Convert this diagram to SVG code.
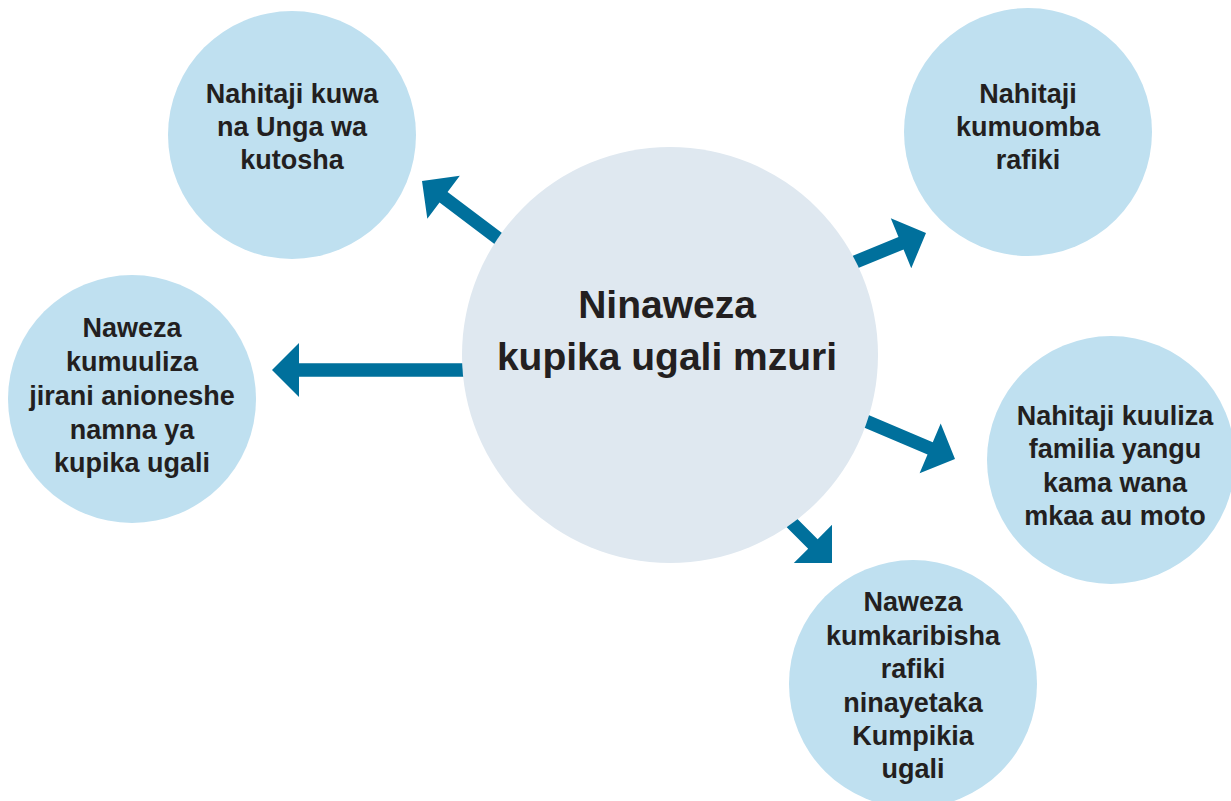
<svg xmlns="http://www.w3.org/2000/svg" width="1231" height="801" viewBox="0 0 1231 801">
<defs>
<style>
.outer{fill:#bfe0f0}
.center{fill:#dfe8f0}
.arrow{fill:#00709c}
text{font-family:"Liberation Sans",Arial,sans-serif;font-weight:bold;fill:#231f20;text-anchor:middle}
.t{font-size:27px}
.c{font-size:39px}
</style>
<polygon id="arr" points="-250,-6.7 -27,-6.7 -27,-27 0,0 -27,27 -27,6.7 -250,6.7"/>
</defs>
<rect width="1231" height="801" fill="#ffffff"/>
<g id="connectors" class="arrow">
<use href="#arr" transform="translate(422,181) rotate(-143)"/>
<use href="#arr" transform="translate(272,370) rotate(180)"/>
<use href="#arr" transform="translate(926,233) rotate(-22.3)"/>
<use href="#arr" transform="translate(955,459) rotate(23)"/>
<use href="#arr" transform="translate(832,563) rotate(45)"/>
</g>
<g id="node-center">
<circle class="center" cx="670" cy="355" r="208"/>
<text class="c" x="667" y="318">Ninaweza</text>
<text class="c" x="667" y="370">kupika ugali mzuri</text>
</g>
<g id="node-topleft">
<circle class="outer" cx="292" cy="135" r="124"/>
<text class="t" x="292" y="103">Nahitaji kuwa</text>
<text class="t" x="292" y="136">na Unga wa</text>
<text class="t" x="292" y="169">kutosha</text>
</g>
<g id="node-topright">
<circle class="outer" cx="1028" cy="132" r="124"/>
<text class="t" x="1028" y="103">Nahitaji</text>
<text class="t" x="1028" y="136">kumuomba</text>
<text class="t" x="1028" y="169">rafiki</text>
</g>
<g id="node-left">
<circle class="outer" cx="132" cy="399" r="124"/>
<text class="t" x="132" y="337">Naweza</text>
<text class="t" x="132" y="371">kumuuliza</text>
<text class="t" x="132" y="405">jirani anioneshe</text>
<text class="t" x="132" y="439">namna ya</text>
<text class="t" x="132" y="472">kupika ugali</text>
</g>
<g id="node-right">
<circle class="outer" cx="1111" cy="460" r="124"/>
<text class="t" x="1115" y="425">Nahitaji kuuliza</text>
<text class="t" x="1115" y="458">familia yangu</text>
<text class="t" x="1115" y="492">kama wana</text>
<text class="t" x="1115" y="525">mkaa au moto</text>
</g>
<g id="node-bottom">
<circle class="outer" cx="913" cy="684" r="124"/>
<text class="t" x="913" y="611">Naweza</text>
<text class="t" x="913" y="645">kumkaribisha</text>
<text class="t" x="913" y="678">rafiki</text>
<text class="t" x="913" y="712">ninayetaka</text>
<text class="t" x="913" y="745">Kumpikia</text>
<text class="t" x="913" y="778">ugali</text>
</g>
</svg>
